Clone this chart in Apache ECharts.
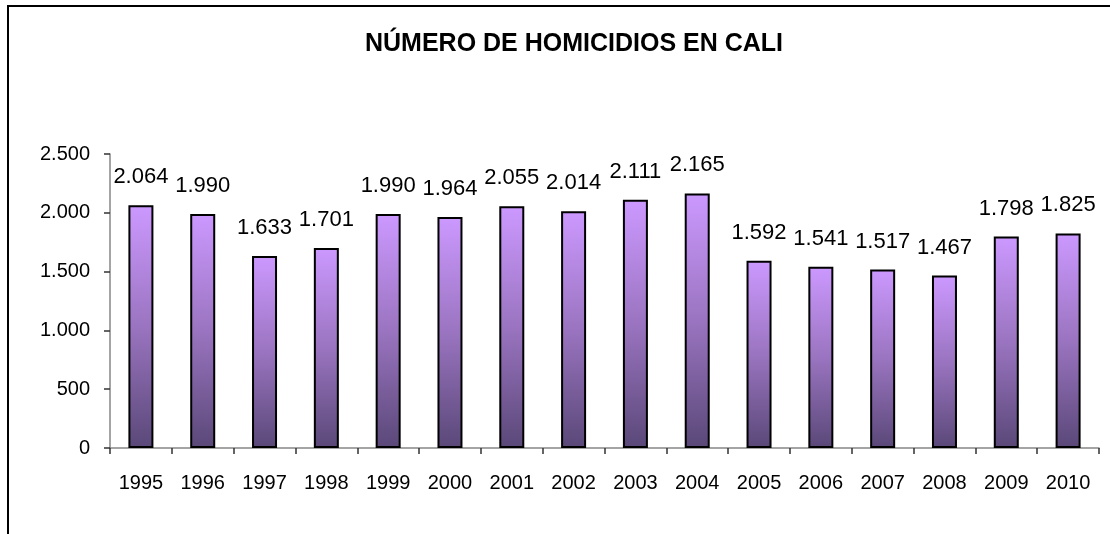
<!DOCTYPE html>
<html>
<head>
<meta charset="utf-8">
<script src="https://cdn.jsdelivr.net/npm/echarts@6/dist/echarts.min.js"></script>
<style>
html,body{margin:0;padding:0;background:#fff;}
#chart{width:1110px;height:534px;}
</style>
</head>
<body>
<div id="chart"></div>
<script>
const titleText = 'NÚMERO DE HOMICIDIOS EN CALI';
const years = ['1995','1996','1997','1998','1999','2000','2001','2002','2003','2004','2005','2006','2007','2008','2009','2010'];
const homicides = [2064,1990,1633,1701,1990,1964,2055,2014,2111,2165,1592,1541,1517,1467,1798,1825];
const yTicks = {min:0, max:2500, interval:500};

function fmt(v){
  return String(v).replace(/\B(?=(\d{3})+(?!\d))/g, '.');
}

const chart = echarts.init(document.getElementById('chart'));
chart.setOption({
  animation:false,
  backgroundColor:'#ffffff',
  title:{
    text:titleText,
    left:569,
    top:27,
    textAlign:'center',
    textStyle:{fontFamily:'Liberation Sans, Arial, sans-serif',fontSize:25,fontWeight:'bold',color:'#000'}
  },
  graphic:[{
    type:'polyline',
    shape:{points:[[8,534],[8,6],[1110,6]]},
    style:{stroke:'#000',lineWidth:2,fill:null}
  }],
  grid:{left:110,right:11,top:154,bottom:86,containLabel:false},
  xAxis:{
    type:'category',
    data:years,
    boundaryGap:true,
    axisLine:{lineStyle:{color:'#868686',width:1.5}},
    axisTick:{show:true,length:6,inside:false,lineStyle:{color:'#333',width:1.5}},
    axisLabel:{fontFamily:'Liberation Sans, Arial, sans-serif',fontSize:20,color:'#000',margin:25}
  },
  yAxis:{
    type:'value',
    min:yTicks.min,max:yTicks.max,interval:yTicks.interval,
    axisLine:{show:true,lineStyle:{color:'#868686',width:1.5}},
    axisTick:{show:true,length:6,lineStyle:{color:'#333',width:1.5}},
    splitLine:{show:false},
    axisLabel:{fontFamily:'Liberation Sans, Arial, sans-serif',fontSize:20,color:'#000',margin:20,formatter:fmt}
  },
  series:[{
    type:'bar',
    data:homicides,
    barWidth:25,
    itemStyle:{
      borderColor:'#000',borderWidth:2,
      color:new echarts.graphic.LinearGradient(0,0,0,1,[
        {offset:0,color:'#cc99ff'},
        {offset:0.5,color:'#9a74c0'},
        {offset:1,color:'#5a4878'}
      ])
    },
    label:{
      show:true,position:'top',distance:17,
      fontFamily:'Liberation Sans, Arial, sans-serif',fontSize:22,color:'#000',
      formatter:p=>fmt(p.value)
    }
  }]
});
</script>
</body>
</html>
